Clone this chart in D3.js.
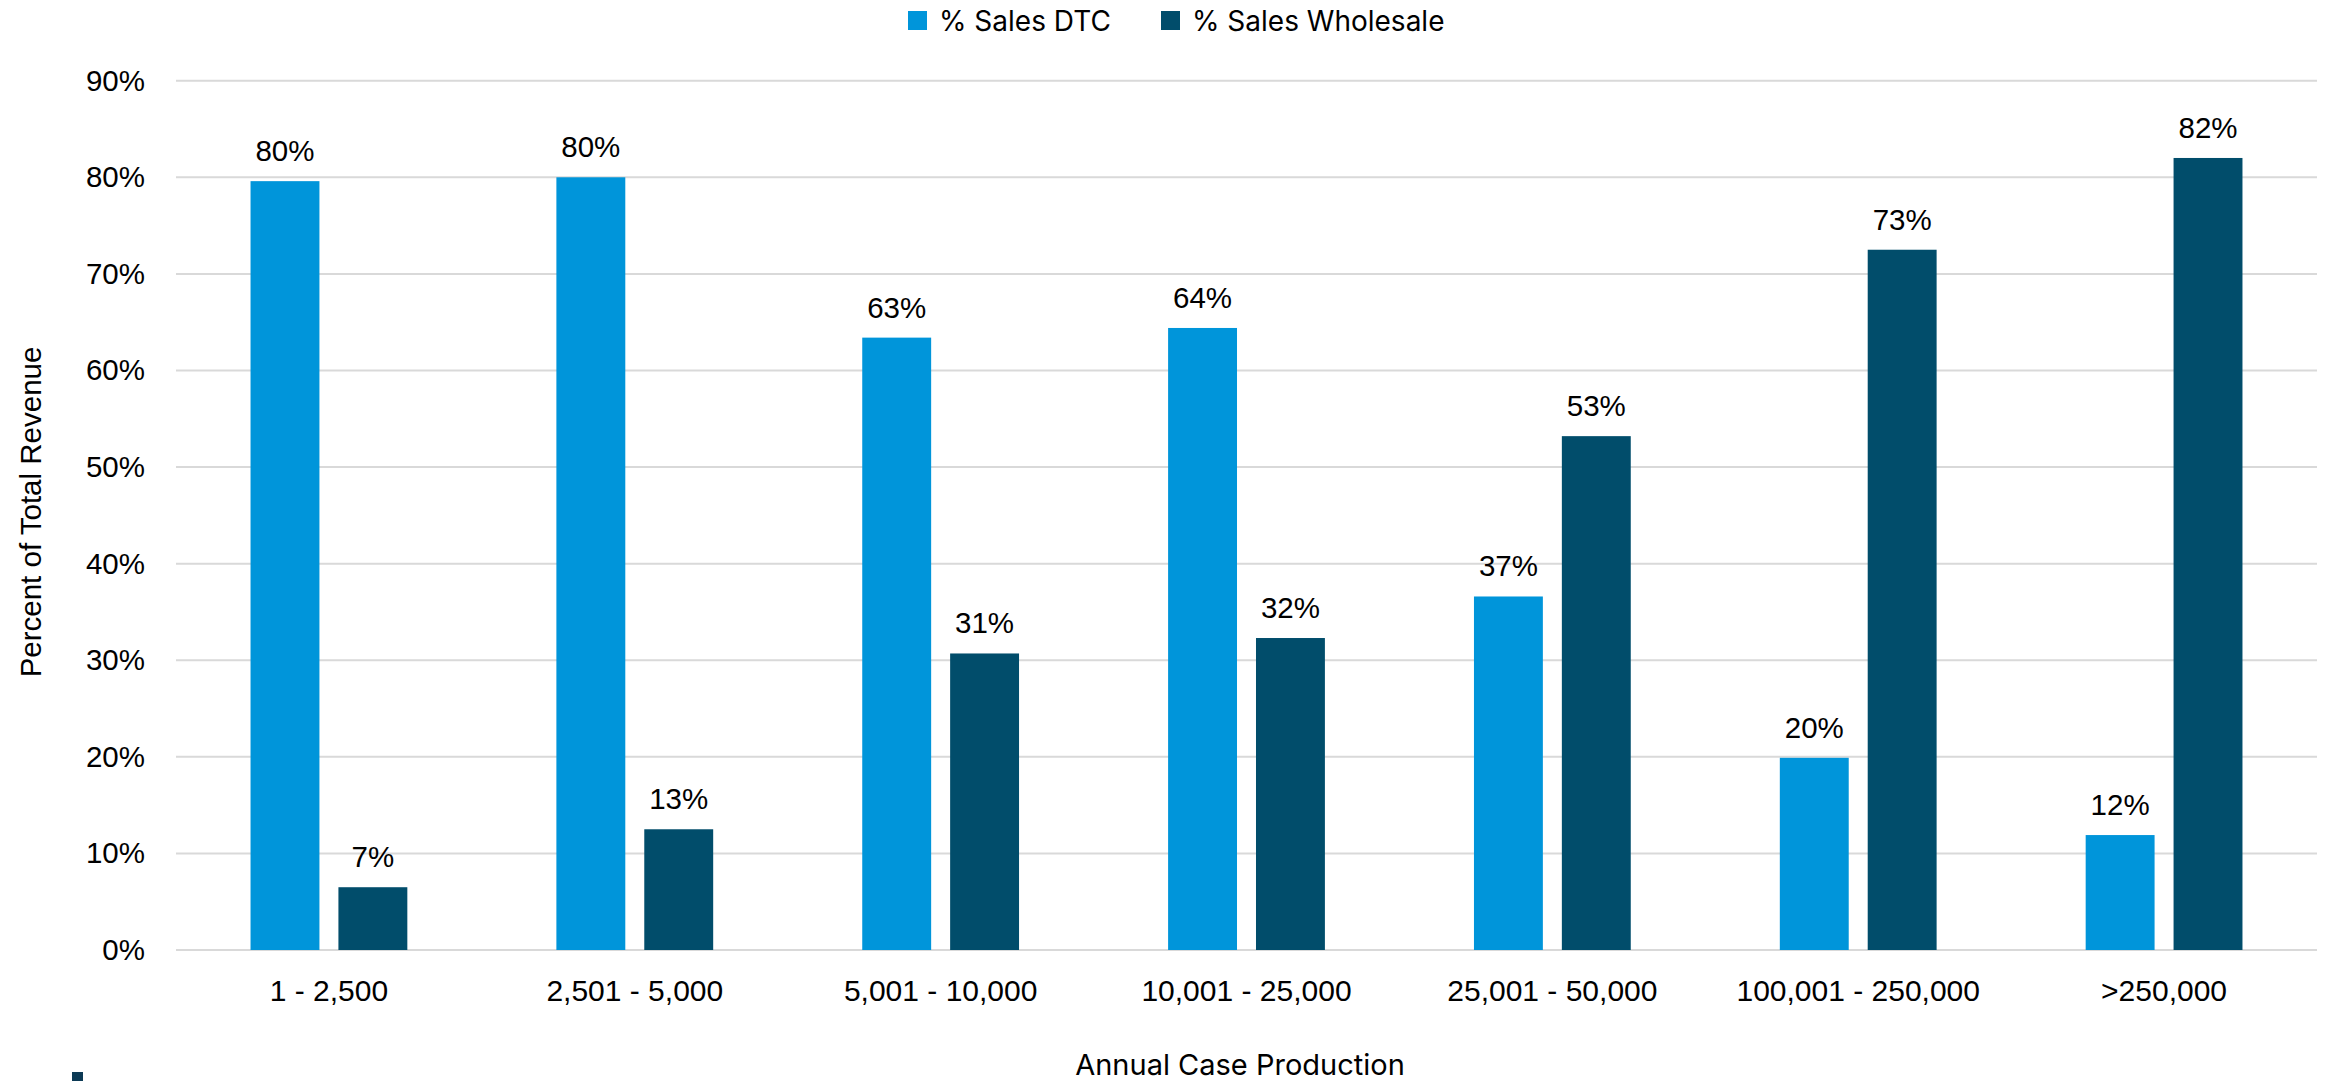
<!DOCTYPE html>
<html>
<head>
<meta charset="utf-8">
<script src="https://cdn.jsdelivr.net/npm/d3@7"></script>
<style>
  html, body { margin: 0; padding: 0; background: #fff; }
  svg { display: block; }
</style>
</head>
<body>
<svg id="chart" width="2329" height="1081"></svg>
<script>
// Revenue split by winery size (percent of total revenue)
const categories = ["1 - 2,500", "2,501 - 5,000", "5,001 - 10,000", "10,001 - 25,000",
                    "25,001 - 50,000", "100,001 - 250,000", ">250,000"];
const seriesNames = ["% Sales DTC", "% Sales Wholesale"];
const dtcValues = [79.6, 80.0, 63.4, 64.4, 36.6, 19.9, 11.9];
const wholesaleValues = [6.5, 12.5, 30.7, 32.3, 53.2, 72.5, 82.0];
const yTicks = [0, 10, 20, 30, 40, 50, 60, 70, 80, 90];

const colors = { "% Sales DTC": "#0095da", "% Sales Wholesale": "#014d6b" };
const ARIAL = "'Liberation Sans', Arial, sans-serif";
const TITLE_FONT = "Inter, 'Noto Sans', sans-serif";

const svg = d3.select("#chart");
const plot = { left: 176, right: 2317, top: 80.7, bottom: 950 };

const x0 = d3.scaleBand().domain(categories).range([plot.left, plot.right]).padding(0);
const x1 = d3.scaleBand().domain(seriesNames).range([0, x0.bandwidth()])
  .paddingInner(0.216).paddingOuter(0.848);
const y = d3.scaleLinear().domain([0, 90]).range([plot.bottom, plot.top]);

// Horizontal gridlines
svg.append("g")
  .selectAll("line")
  .data(yTicks)
  .join("line")
  .attr("x1", plot.left).attr("x2", plot.right)
  .attr("y1", d => y(d)).attr("y2", d => y(d))
  .attr("stroke", "#d9d9d9").attr("stroke-width", 2);

// Y axis labels
const yAxis = svg.append("g")
  .attr("transform", `translate(${plot.left - 31},0)`)
  .call(d3.axisLeft(y).tickValues(yTicks).tickFormat(d => d + "%").tickSize(0).tickPadding(0));
yAxis.select(".domain").remove();
yAxis.selectAll("text")
  .attr("font-family", ARIAL).attr("font-size", 29.5).attr("fill", "#000");

// X axis labels
const xAxis = svg.append("g")
  .attr("transform", `translate(0,${plot.bottom})`)
  .call(d3.axisBottom(x0).tickSize(0).tickPadding(0));
xAxis.select(".domain").remove();
xAxis.selectAll("text")
  .attr("font-family", ARIAL).attr("font-size", 30).attr("fill", "#000")
  .attr("dy", null).attr("y", 51);

// Bars
const rows = categories.map((c, i) => ({
  category: c,
  items: [
    { series: seriesNames[0], value: dtcValues[i] },
    { series: seriesNames[1], value: wholesaleValues[i] }
  ]
}));

const groups = svg.append("g")
  .selectAll("g")
  .data(rows)
  .join("g")
  .attr("transform", d => `translate(${x0(d.category)},0)`);

groups.selectAll("rect")
  .data(d => d.items)
  .join("rect")
  .attr("x", d => x1(d.series))
  .attr("width", x1.bandwidth())
  .attr("y", d => y(d.value))
  .attr("height", d => y(0) - y(d.value))
  .attr("fill", d => colors[d.series]);

// Value labels
groups.selectAll("text")
  .data(d => d.items)
  .join("text")
  .attr("x", d => x1(d.series) + x1.bandwidth() / 2)
  .attr("y", d => y(d.value) - 20)
  .attr("text-anchor", "middle")
  .attr("font-family", ARIAL).attr("font-size", 29.5).attr("fill", "#000")
  .text(d => Math.round(d.value) + "%");

// Legend
const legendItems = [
  { name: seriesNames[0], x: 908 },
  { name: seriesNames[1], x: 1161 }
];
const legend = svg.append("g")
  .selectAll("g")
  .data(legendItems)
  .join("g")
  .attr("transform", d => `translate(${d.x},0)`);
legend.append("rect")
  .attr("x", 0).attr("y", 11).attr("width", 19).attr("height", 19)
  .attr("fill", d => colors[d.name]);
legend.append("text")
  .attr("x", 31).attr("y", 31)
  .attr("font-family", TITLE_FONT).attr("font-size", 28).attr("fill", "#000")
  .text(d => d.name);

// Axis titles
svg.append("text")
  .attr("x", 1240)
  .attr("y", 1075)
  .attr("text-anchor", "middle")
  .attr("font-family", TITLE_FONT).attr("font-size", 29).attr("fill", "#000")
  .text("Annual Case Production");

svg.append("text")
  .attr("transform", `translate(41,512) rotate(-90)`)
  .attr("text-anchor", "middle")
  .attr("font-family", ARIAL).attr("font-size", 29.5).attr("fill", "#000")
  .text("Percent of Total Revenue");

// Brand mark in the lower-left corner
svg.append("rect")
  .attr("x", 72).attr("y", 1072).attr("width", 11).attr("height", 9)
  .attr("fill", "#0c3a55");
</script>
</body>
</html>
